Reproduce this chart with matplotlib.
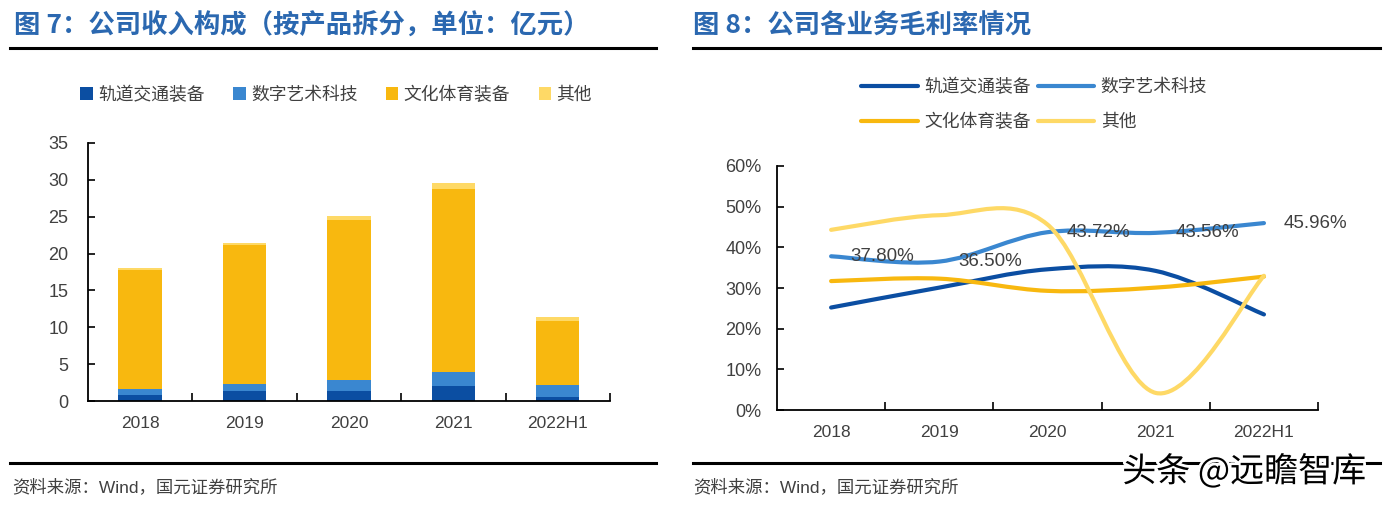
import matplotlib
matplotlib.use("Agg")
import matplotlib.pyplot as plt
import matplotlib.patheffects as pe
from matplotlib.path import Path
from matplotlib.patches import PathPatch, Patch
from matplotlib.lines import Line2D
import numpy as np

plt.rcParams['font.family'] = ['Liberation Sans', 'Noto Sans CJK SC']

# ---- data ----
years = ["2018", "2019", "2020", "2021", "2022H1"]
segments = ["轨道交通装备", "数字艺术科技", "文化体育装备", "其他"]

# revenue by product (亿元)
rev_rail = [0.81, 1.36, 1.36, 2.03, 0.54]
rev_digital = [0.77, 0.90, 1.44, 1.85, 1.67]
rev_culture = [16.17, 18.88, 21.73, 24.85, 8.58]
rev_other = [0.36, 0.31, 0.58, 0.90, 0.55]

# gross margin by segment (%)
gm_rail = [25.2, 30.1, 34.6, 34.2, 23.5]
gm_digital = [37.80, 36.50, 43.72, 43.56, 45.96]
gm_culture = [31.7, 32.3, 29.3, 30.1, 32.8]
gm_other = [44.3, 47.9, 45.6, 4.2, 33.0]

colors = ["#0B4EA2", "#3A87D0", "#F8B80F", "#FED966"]
title_color = "#2B68B0"
text_color = "#404040"
cjk = ['Noto Sans CJK SC']


def smooth_path(xs, ys):
    ''' Excel-like smoothed line as cubic bezier path through the points '''
    pts = np.column_stack([xs, ys]).astype(float)
    n = len(pts)
    verts = [pts[0]]
    codes = [Path.MOVETO]
    for i in range(n - 1):
        p0 = pts[max(i - 1, 0)]
        p1 = pts[i]
        p2 = pts[i + 1]
        p3 = pts[min(i + 2, n - 1)]
        verts += [p1 + (p2 - p0) / 6, p2 - (p3 - p1) / 6, p2]
        codes += [Path.CURVE4] * 3
    return Path(verts, codes)


def style_axes(ax, n):
    for s in ["top", "right"]:
        ax.spines[s].set_visible(False)
    for s in ["left", "bottom"]:
        ax.spines[s].set_linewidth(1.3)
        ax.spines[s].set_color("black")
    ax.set_xlim(-0.5, n - 0.5)
    ax.set_xticks(range(n))
    ax.set_xticklabels(years)
    ax.set_xticks(np.arange(n) + 0.5, minor=True)
    ax.tick_params(axis="x", which="major", length=0, pad=11, labelsize=12.5, labelcolor=text_color)
    ax.tick_params(axis="x", which="minor", direction="in", length=6, width=1.2)
    ax.tick_params(axis="y", direction="in", length=5, width=1.2, labelsize=13, labelcolor=text_color)


fig = plt.figure(figsize=(13.87, 5.07), dpi=100)

# titles, rules and footers
fig.text(0.010, 0.949, "图 7：公司收入构成（按产品拆分，单位：亿元）", fontsize=19, fontweight="bold",
         color=title_color, family=cjk, va="center")
fig.text(0.4995, 0.949, "图 8：公司各业务毛利率情况", fontsize=19, fontweight="bold",
         color=title_color, family=cjk, va="center")
for x0, x1 in [(0.007, 0.473), (0.4995, 0.995)]:
    fig.add_artist(Line2D([x0, x1], [0.906, 0.906], color="black", lw=2.2, transform=fig.transFigure))
    fig.add_artist(Line2D([x0, x1], [0.087, 0.087], color="black", lw=2.2, transform=fig.transFigure))
fig.text(0.009, 0.041, "资料来源：Wind，国元证券研究所", fontsize=12.5, color=text_color, va="center")
fig.text(0.4995, 0.041, "资料来源：Wind，国元证券研究所", fontsize=12.5, color=text_color, va="center")

# ---- left: stacked bars ----
ax1 = fig.add_axes([0.0634, 0.209, 0.3764, 0.509])
x = np.arange(len(years))
bottom = np.zeros(len(years))
for vals, c in zip([rev_rail, rev_digital, rev_culture, rev_other], colors):
    ax1.bar(x, vals, width=0.415, bottom=bottom, color=c, zorder=2)
    bottom += np.array(vals)
ax1.set_ylim(0, 35)
ax1.set_yticks(range(0, 36, 5))
style_axes(ax1, len(years))
ax1.tick_params(axis="y", pad=14)

handles = [Patch(facecolor=c, edgecolor="none") for c in colors]
fig.legend(handles, segments, loc="center", bbox_to_anchor=(0.2423, 0.8126), ncol=4, frameon=False,
           fontsize=12.8, handlelength=0.7, handleheight=0.7, handletextpad=0.3, columnspacing=1.6,
           labelcolor=text_color)

# ---- right: smoothed lines ----
ax2 = fig.add_axes([0.5602, 0.1913, 0.3901, 0.4813])
series = [gm_rail, gm_digital, gm_culture, gm_other]
for vals, c in zip(series, colors):
    ax2.add_patch(PathPatch(smooth_path(x, vals), facecolor="none", edgecolor=c, lw=3,
                            capstyle="round", joinstyle="round", zorder=3))
for xi, v in zip(x, gm_digital):
    ax2.annotate(f"{v:.2f}%", (xi, v), xytext=(14, 0), textcoords="offset points",
                 ha="left", va="center", fontsize=13.5, color=text_color, zorder=4)
ax2.set_ylim(0, 60)
ax2.set_yticks(range(0, 61, 10))
ax2.set_yticklabels([f"{v}%" for v in range(0, 61, 10)])
style_axes(ax2, len(years))
ax2.tick_params(axis="y", pad=11)

order = [0, 2, 1, 3]
line_handles = [Line2D([0], [0], color=colors[i], lw=3, solid_capstyle="round") for i in order]
fig.legend(line_handles, [segments[i] for i in order], loc="center", bbox_to_anchor=(0.7455, 0.7929),
           ncol=2, frameon=False, fontsize=12.8, handlelength=3.2, handletextpad=0.35,
           columnspacing=0.4, labelspacing=1.0, labelcolor=text_color)

# watermark
fig.text(0.897, 0.069, "头条 @远瞻智库", fontsize=24.5, color="black", family=cjk, ha="center", va="center",
         path_effects=[pe.withStroke(linewidth=4, foreground="white")])

fig.savefig("out.png", dpi=100)
